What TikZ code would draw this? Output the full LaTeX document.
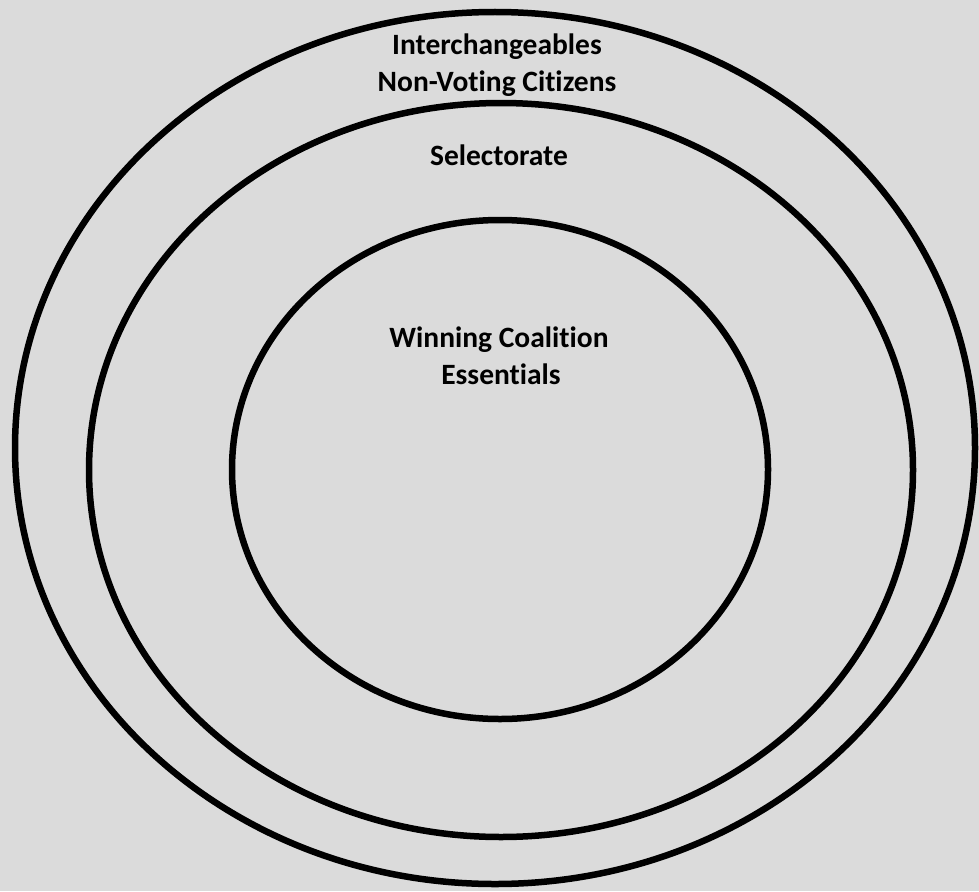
\documentclass[tikz,border=0pt]{standalone}
\usepackage{fontspec}
\setmainfont{Carlito}[Ligatures={NoCommon}]
\definecolor{paper}{RGB}{219,219,219}
\begin{document}
\begin{tikzpicture}[x=1pt,y=-1pt,
  ring/.style={draw=black,line width=6.5pt},
  lbl/.style={anchor=base,inner sep=0pt,font=\fontsize{29.5}{35}\selectfont\bfseries,text=black}]
  % canvas
  \fill[paper] (0,0) rectangle (979,891);
  \useasboundingbox (0,0) rectangle (979,891);
  % nested groups
  \draw[ring] (495,448) ellipse [x radius=480pt, y radius=436pt];
  \draw[ring] (501,470) ellipse [x radius=412pt, y radius=367pt];
  \draw[ring] (500,469.5) ellipse [x radius=268pt, y radius=249.5pt];
  % labels
  \node[lbl] (inter) at (497,55) {Interchangeables};
  \node[lbl] (nonvot) at (497,92) {Non-Voting Citizens};
  \node[lbl] (select) at (499,165) {Selectorate};
  \node[lbl] (wincoal) at (499,347) {Winning Coalition};
  \node[lbl] (essent) at (501,384) {Essentials};
\end{tikzpicture}
\end{document}
